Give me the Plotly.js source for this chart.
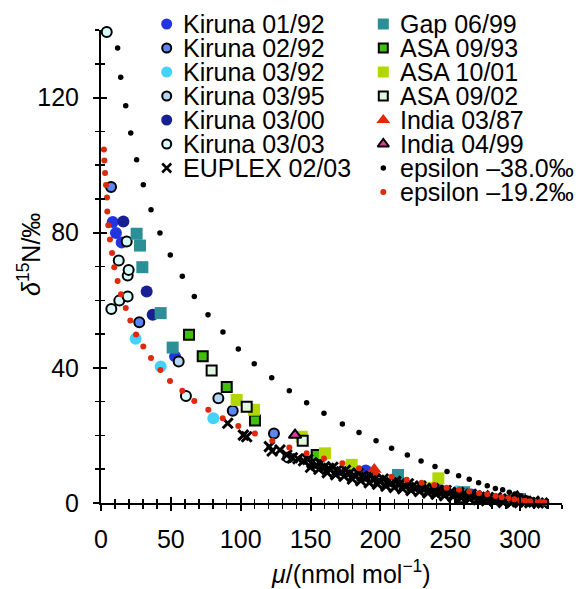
<!DOCTYPE html>
<html><head><meta charset="utf-8">
<script src="https://cdn.plot.ly/plotly-3.0.1.min.js"></script>
<style>html,body{margin:0;padding:0;background:#fff}#chart{width:579px;height:589px}</style>
</head><body><div id="chart"></div>
<script>
// ---- data ----
const KIR0192_X = [8.4, 10.7, 14.8, 53.0, 189.5, 265];
const KIR0192_Y = [83.2, 79.9, 77.1, 43.4, 9.6, 2.5];
const KIR0292_X = [7.2, 27.4, 94.3, 123.8];
const KIR0292_Y = [93.5, 53.5, 27.3, 20.6];
const KIR0392_X = [24.8, 42.7, 80.4, 255];
const KIR0392_Y = [48.6, 40.4, 25.1, 3.5];
const KIR0395_X = [55.6, 84.0];
const KIR0395_Y = [41.9, 31.0];
const KIR0300_X = [16.0, 32.7, 37.0, 243];
const KIR0300_Y = [83.3, 62.6, 55.7, 3.8];
const KIR0303_X = [4.1, 7.4, 12.7, 13.1, 18.4, 19.1, 19.1, 19.8, 60.8, 134.0];
const KIR0303_Y = [139.4, 57.4, 71.8, 59.9, 77.4, 61.1, 67.3, 69.0, 31.7, 13.5];
const EUP_X = [90.7, 101.9, 104.3, 120.5, 122.5, 128.1, 133, 137, 141, 145, 148, 151, 154, 157, 160, 163, 166, 169, 172, 175, 178, 181, 184, 187, 190, 193, 196, 199, 202, 205, 208, 211, 214, 217, 220, 223, 226, 229, 232, 235, 238, 241, 244, 247, 250, 253, 256, 259, 262, 265, 268, 271, 274, 277, 280, 283, 286, 289, 292, 295, 298, 301, 304, 307, 310, 313, 316, 319,
  150, 156, 162, 168, 174, 180, 186, 192, 198, 204, 210, 216, 222, 228, 234, 240, 246, 252, 258, 264, 270, 276, 282, 288, 294, 300];
const EUP_Y = [23.6, 20.1, 19.6, 16.7, 15.4, 15.7, 14.2, 13.4, 13.1, 12.5, 12.9, 11.9, 11.2, 11.7, 10.7, 10.3, 10.6, 9.7, 9.2, 9.7, 8.8, 8.3, 8.8, 7.9, 7.5, 7.9, 7.1, 6.7, 7.1, 6.3, 6.0, 6.4, 5.6, 5.3, 5.7, 4.9, 4.6, 5.0, 4.2, 3.9, 4.3, 3.6, 3.3, 3.7, 3.0, 2.7, 3.1, 2.4, 2.2, 2.6, 1.9, 1.7, 2.1, 1.4, 1.2, 1.6, 1.0, 0.8, 1.2, 0.6, 0.4, 0.8, 0.3, 0.1, 0.5, 0.0, 0.0, -0.2,
  10.6, 10.0, 9.0, 8.4, 7.9, 7.1, 6.6, 6.0, 5.6, 5.0, 4.6, 4.2, 3.7, 3.4, 3.0, 2.6, 2.2, 1.9, 1.6, 1.2, 1.0, 0.7, 0.5, 0.2, 0.1, -0.1];
const GAP_X = [25.5, 27.9, 29.6, 42.7, 51.3, 212.6, 260, 300];
const GAP_Y = [79.7, 76.2, 69.8, 56.2, 46.0, 8.3, 3.2, 1.2];
const ASA0993_X = [63.0, 72.8, 90.0, 110.2, 154.4];
const ASA0993_Y = [49.8, 43.4, 34.3, 24.4, 14.2];
const ASA1001_X = [97.1, 109.5, 143.7, 160.3, 179.4, 234, 241.5];
const ASA1001_Y = [30.5, 27.6, 19.6, 14.7, 11.3, 4.4, 7.3];
const ASA0902_X = [79.2, 104.3, 144.4, 257];
const ASA0902_Y = [39.2, 28.5, 18.4, 1.7];
const IND0387_X = [195.6];
const IND0387_Y = [9.9];
const IND0499_X = [138.9, 298];
const IND0499_Y = [20.1, 1.8];
const EPS38_X = [11.9, 14.1, 17.7, 21.3, 25.5, 30.3, 35.8, 42.2, 49.6, 58.2, 66.8, 76.6, 87.3, 98.3, 109.7, 122.2, 134.8, 147.2, 159.6, 172.8, 184.7, 196.9, 208.0, 219.3, 229.1, 239.1, 247.7, 256.0, 263.6, 270.3, 276.5, 282.3, 287.5, 292.3, 296.3, 300.6, 305.0, 309.2, 313.5, 317.8];
const EPS38_Y = [134.7, 126.0, 117.6, 109.5, 101.6, 94.2, 86.8, 79.9, 73.4, 67.1, 61.1, 55.7, 50.6, 45.6, 41.2, 37.1, 33.2, 29.7, 26.6, 23.4, 20.9, 18.4, 16.2, 14.2, 12.4, 10.8, 9.3, 8.1, 7.0, 6.0, 5.1, 4.3, 3.9, 3.2, 2.7, 2.1, 1.5, 0.9, 0.4, 0.0];
const EPS19_X = [2.1, 2.4, 2.9, 3.6, 4.3, 4.5, 5.2, 6.4, 7.9, 9.5, 11.9, 14.3, 17.7, 21.0, 25.1, 30.3, 35.8, 42.5, 49.4, 58.2, 66.8, 76.8, 87.1, 98.3, 110.2, 122.6, 134.8, 147.2, 159.6, 172.8, 184.7, 196.5, 208.0, 218.8, 229.5, 238.6, 247.4, 256.3, 263.6, 270.6, 276.5, 282.5, 286.8, 291.6, 295.9, 299.9, 303.5, 307.0, 310.7, 314.2, 317.0, 319.0];
const EPS19_Y = [104.6, 101.4, 97.7, 94.1, 90.4, 86.3, 82.2, 78.0, 74.0, 69.8, 65.7, 61.8, 57.7, 54.0, 49.9, 46.3, 42.9, 39.4, 36.1, 33.2, 30.2, 27.6, 25.1, 22.8, 20.6, 18.4, 16.4, 14.7, 13.2, 11.8, 10.3, 9.0, 7.8, 6.9, 6.0, 5.3, 4.5, 3.9, 3.4, 2.9, 2.6, 2.1, 1.7, 1.4, 1.1, 0.9, 0.7, 0.5, 0.4, 0.3, 0.2, 0.0];

const X_RANGE = [0, 330];
const Y_RANGE = [0, 140];
const FONT = 'Liberation Sans, Arial, Helvetica, sans-serif';

// ---- series styling ----
const series = [
  {name:'Kiruna 01/92', x:KIR0192_X, y:KIR0192_Y, sym:'circle', size:12, color:'#2236e0', lw:0, col:0, row:0},
  {name:'Kiruna 02/92', x:KIR0292_X, y:KIR0292_Y, sym:'circle', size:10, color:'#5b87f4', lw:2, col:0, row:1},
  {name:'Kiruna 03/92', x:KIR0392_X, y:KIR0392_Y, sym:'circle', size:12, color:'#43d2f8', lw:0, col:0, row:2},
  {name:'Kiruna 03/95', x:KIR0395_X, y:KIR0395_Y, sym:'circle', size:10, color:'#b3d6f5', lw:2, col:0, row:3},
  {name:'Kiruna 03/00', x:KIR0300_X, y:KIR0300_Y, sym:'circle', size:12, color:'#172093', lw:0, col:0, row:4},
  {name:'Kiruna 03/03', x:KIR0303_X, y:KIR0303_Y, sym:'circle', size:10, color:'#d8fafa', lw:2, col:0, row:5},
  {name:'Gap 06/99', x:GAP_X, y:GAP_Y, sym:'square', size:12, color:'#2a8f96', lw:0, col:1, row:0},
  {name:'ASA 09/93', x:ASA0993_X, y:ASA0993_Y, sym:'square', size:10, color:'#3fc00a', lw:2, col:1, row:1},
  {name:'ASA 10/01', x:ASA1001_X, y:ASA1001_Y, sym:'square', size:12, color:'#b2d600', lw:0, col:1, row:2},
  {name:'ASA 09/02', x:ASA0902_X, y:ASA0902_Y, sym:'square', size:10, color:'#def7de', lw:2, col:1, row:3},
  {name:'India 03/87', x:IND0387_X, y:IND0387_Y, sym:'triangle-up', size:13, color:'#e2270c', lw:0, col:1, row:4},
  {name:'India 04/99', x:IND0499_X, y:IND0499_Y, sym:'triangle-up', size:11, color:'#e23d9a', lw:2, col:1, row:5},
  {name:'EUPLEX 02/03', x:EUP_X, y:EUP_Y, sym:'x-thin', size:10, color:'#000000', lw:3, col:0, row:6, xline:true},
  {name:'epsilon –38.0‰', x:EPS38_X, y:EPS38_Y, sym:'circle', size:5.5, color:'#000000', lw:0, col:1, row:6},
  {name:'epsilon –19.2‰', x:EPS19_X, y:EPS19_Y, sym:'circle', size:6, color:'#e0280c', lw:0, col:1, row:7}
];

function markerOf(s, legend){
  const m = {symbol:s.sym, size:s.size, color:s.color, line:{width:s.lw, color:'#000'}};
  if (s.xline) m.line = {width:legend ? 2.5 : s.lw, color:s.color};
  if (legend && s.size > 8) m.size = s.size - 1;
  return m;
}

const traces = series.map(s => ({
  type:'scatter', mode:'markers', x:s.x, y:s.y, name:s.name,
  marker:markerOf(s,false), showlegend:false, cliponaxis:false, hoverinfo:'skip'
}));

// overlay axis carrying the inward half of the crossing ticks
traces.push({type:'scatter', x:[], y:[], xaxis:'x2', yaxis:'y2', showlegend:false});

// custom legend drawn on hidden axes x3/y3 whose units are page pixels
const PLOT_TOP_PX = 30, PLOT_BOTTOM_PX = 503, PLOT_LEFT_PX = 101, PLOT_RIGHT_PX = 562;
const LEG_MARK_X = [166.7, 383.3];
const LEG_TEXT_X = [181, 398];
const LEG_ROW0 = 24, LEG_STEP = 24;
const annotations = [];
series.forEach(s => {
  const yy = LEG_ROW0 + LEG_STEP*s.row;
  traces.push({type:'scatter', mode:'markers', xaxis:'x3', yaxis:'y3',
    x:[LEG_MARK_X[s.col]], y:[yy],
    marker:markerOf(s,true), showlegend:false, cliponaxis:false, hoverinfo:'skip'});
  annotations.push({xref:'x3', yref:'y3', x:LEG_TEXT_X[s.col], y:yy,
    text:s.name, showarrow:false, xanchor:'left', yanchor:'middle',
    font:{family:FONT, size:25, color:'#000'}});
});

const H = PLOT_BOTTOM_PX; // height of the plotting area (margin top = 0)
annotations.push({xref:'paper', yref:'paper', x:(351-PLOT_LEFT_PX)/(PLOT_RIGHT_PX-PLOT_LEFT_PX), y:(PLOT_BOTTOM_PX-572)/H,
  xanchor:'center', yanchor:'middle',
  text:'<i>μ</i>/(nmol mol<sup>−1</sup>)', showarrow:false, font:{family:FONT, size:25, color:'#000'}});
annotations.push({xref:'paper', yref:'paper', x:(29-PLOT_LEFT_PX)/(PLOT_RIGHT_PX-PLOT_LEFT_PX), y:(PLOT_BOTTOM_PX-255)/H,
  xanchor:'center', yanchor:'middle', textangle:-90,
  text:'<i>δ</i><sup>15</sup>N/‰', showarrow:false, font:{family:FONT, size:25, color:'#000'}});

const mainTop = (PLOT_BOTTOM_PX-PLOT_TOP_PX)/H;
const tickCommon = {showgrid:false, zeroline:false, tickcolor:'#000', tickwidth:2, ticklen:6};
const layout = {
  width:579, height:589,
  margin:{l:PLOT_LEFT_PX, r:579-PLOT_RIGHT_PX, t:0, b:589-PLOT_BOTTOM_PX, pad:0},
  paper_bgcolor:'#fff', plot_bgcolor:'rgba(0,0,0,0)',
  showlegend:false,
  font:{family:FONT, size:25, color:'#000'},
  xaxis:Object.assign({}, tickCommon, {range:X_RANGE, autorange:false, showline:true, linecolor:'#000', linewidth:2,
    ticks:'outside', tick0:0, dtick:50, minor:{dtick:10, ticks:'outside', ticklen:4, tickwidth:1.5, tickcolor:'#000'},
    tickfont:{family:FONT, size:25}, ticklabelstandoff:7, anchor:'y'}),
  yaxis:Object.assign({}, tickCommon, {domain:[0, mainTop], range:Y_RANGE, autorange:false, showline:true, linecolor:'#000', linewidth:2,
    ticks:'outside', tick0:0, dtick:40, minor:{dtick:10, ticks:'outside', ticklen:4, tickwidth:1.5, tickcolor:'#000'},
    tickfont:{family:FONT, size:25}, ticklabelstandoff:9, anchor:'x'}),
  xaxis2:Object.assign({}, tickCommon, {overlaying:'x', anchor:'y2', side:'bottom', range:X_RANGE, autorange:false,
    showline:false, showticklabels:false, ticks:'inside', tick0:0, dtick:50,
    minor:{dtick:10, ticks:'inside', ticklen:4, tickwidth:1.5, tickcolor:'#000'}}),
  yaxis2:Object.assign({}, tickCommon, {overlaying:'y', anchor:'x2', side:'left', range:Y_RANGE, autorange:false,
    showline:false, showticklabels:false, ticks:'inside', tick0:0, dtick:40,
    minor:{dtick:10, ticks:'inside', ticklen:4, tickwidth:1.5, tickcolor:'#000'}}),
  xaxis3:{domain:[0,1], anchor:'y3', range:[PLOT_LEFT_PX, PLOT_RIGHT_PX], autorange:false, visible:false},
  yaxis3:{domain:[0,1], anchor:'x3', range:[PLOT_BOTTOM_PX, 0], autorange:false, visible:false},
  annotations:annotations
};

Plotly.newPlot('chart', traces, layout, {staticPlot:true, displayModeBar:false});
</script>
</body></html>
